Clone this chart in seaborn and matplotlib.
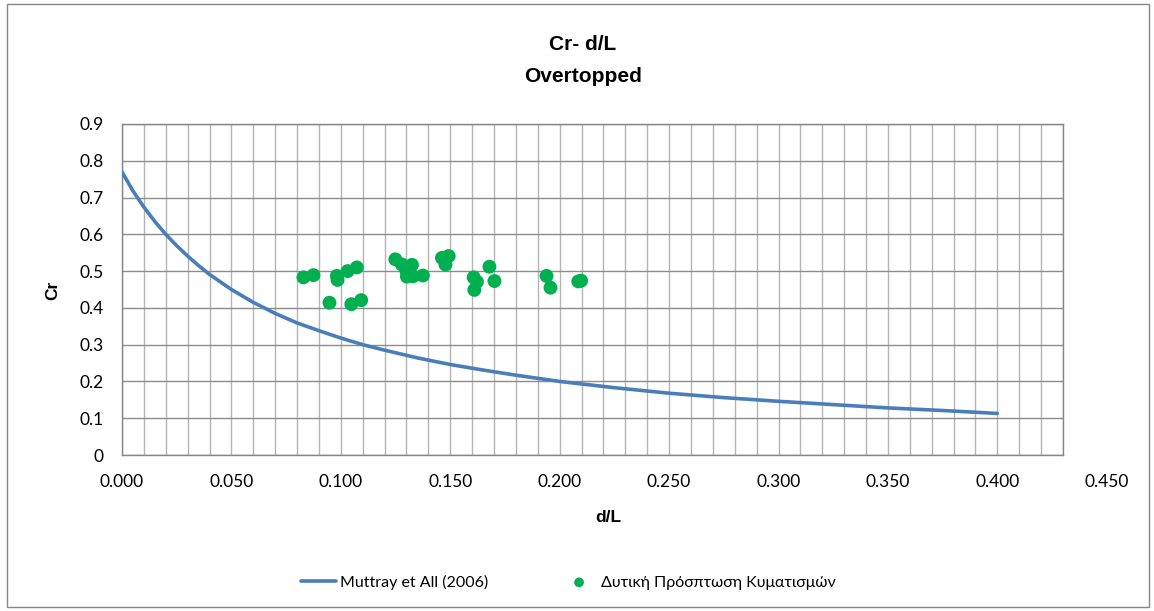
import matplotlib
matplotlib.use("Agg")
import matplotlib.pyplot as plt
from matplotlib.patches import Rectangle
from matplotlib.ticker import MultipleLocator, FixedLocator
import pandas as pd
import seaborn as sns

# Muttray et al. (2006) reflection coefficient curve
muttray_dL = [0.000, 0.005, 0.010, 0.015, 0.020, 0.025, 0.030, 0.035, 0.040, 0.050,
              0.060, 0.070, 0.080, 0.090, 0.100, 0.110, 0.120, 0.135, 0.150, 0.165,
              0.180, 0.200, 0.225, 0.250, 0.275, 0.300, 0.325, 0.350, 0.375, 0.400]
muttray_cr = [0.770, 0.718, 0.674, 0.635, 0.600, 0.569, 0.541, 0.515, 0.491, 0.450,
              0.415, 0.385, 0.359, 0.338, 0.318, 0.300, 0.285, 0.264, 0.246, 0.231,
              0.217, 0.200, 0.183, 0.168, 0.156, 0.146, 0.137, 0.128, 0.121, 0.113]

# Measured reflection coefficients, western wave incidence
obs_dL = [0.0829, 0.0875, 0.0948, 0.0982, 0.0985, 0.1031, 0.1073, 0.1048, 0.1093,
          0.1249, 0.1279, 0.1300, 0.1302, 0.1325, 0.1330, 0.1375, 0.1462, 0.1493,
          0.1478, 0.1607, 0.1622, 0.1610, 0.1679, 0.1702, 0.1940, 0.1958, 0.2085, 0.2098]
obs_cr = [0.483, 0.489, 0.414, 0.487, 0.476, 0.500, 0.510, 0.410, 0.421,
          0.532, 0.518, 0.500, 0.485, 0.517, 0.486, 0.488, 0.536, 0.541,
          0.518, 0.483, 0.471, 0.449, 0.512, 0.473, 0.487, 0.455, 0.472, 0.474]

x_ticks = [0.00, 0.05, 0.10, 0.15, 0.20, 0.25, 0.30, 0.35, 0.40, 0.45]
x_tick_labels = ["0.000", "0.050", "0.100", "0.150", "0.200", "0.250",
                 "0.300", "0.350", "0.400", "0.450"]
y_ticks = [0.0, 0.1, 0.2, 0.3, 0.4, 0.5, 0.6, 0.7, 0.8, 0.9]
y_tick_labels = ["0", "0.1", "0.2", "0.3", "0.4", "0.5", "0.6", "0.7", "0.8", "0.9"]

line_label = "Muttray et All (2006)"
obs_label = "Δυτική Πρόσπτωση Κυματισμών"

sns.set_theme(style="white")
plt.rcParams["font.family"] = ["Lato", "Noto Sans", "DejaVu Sans"]
plt.rcParams["text.color"] = "#000000"
BOLD = ["Liberation Sans", "DejaVu Sans"]

W, H = 1154, 611
fig = plt.figure(figsize=(W / 100, H / 100), dpi=100)
ax = fig.add_axes([122 / W, 1 - 455 / H, (1063 - 122) / W, (455 - 124) / H])

curve = pd.DataFrame({"dL": muttray_dL, "Cr": muttray_cr})
obs = pd.DataFrame({"dL": obs_dL, "Cr": obs_cr})

sns.lineplot(data=curve, x="dL", y="Cr", ax=ax, color="#4A7EBB", linewidth=2.6,
             label=line_label, zorder=3)
sns.scatterplot(data=obs, x="dL", y="Cr", ax=ax, color="#00B050", s=100,
                edgecolor="none", label=obs_label, zorder=4)

x_max = 0.43
ax.set_xlim(0, x_max)
ax.set_ylim(0, 0.9)

# grid: fine vertical lines, heavier horizontal lines
ax.xaxis.set_minor_locator(MultipleLocator(0.01))
ax.grid(which="minor", axis="x", color="#B4B4B4", linewidth=1.0)
ax.grid(which="major", axis="x", color="#B4B4B4", linewidth=1.0)
ax.grid(which="major", axis="y", color="#8C8C8C", linewidth=1.0)
ax.set_axisbelow(True)

TICK_FS = 12.5
inside = [(v, t) for v, t in zip(x_ticks, x_tick_labels) if v <= x_max + 1e-9]
ax.xaxis.set_major_locator(FixedLocator([v for v, _ in inside]))
ax.set_xticklabels([t for _, t in inside])
ax.set_yticks(y_ticks)
ax.set_yticklabels(y_tick_labels)
ax.tick_params(axis="x", which="both", length=0, pad=14, labelsize=TICK_FS, colors="#000000")
ax.tick_params(axis="y", which="both", length=0, pad=13, labelsize=TICK_FS, colors="#000000")

# labels beyond the plotted range
for v, t in zip(x_ticks, x_tick_labels):
    if v > x_max + 1e-9:
        ax.annotate(t, xy=(v, 0), xycoords=("data", "axes fraction"),
                    xytext=(0, -14), textcoords="offset points",
                    ha="center", va="top", fontsize=TICK_FS, color="#000000",
                    annotation_clip=False)

for sp in ax.spines.values():
    sp.set_visible(True)
    sp.set_color("#868686")
    sp.set_linewidth(1.0)

ax.set_xlabel("")
ax.set_ylabel("")
fig.text(53 / W, 1 - 290 / H, "Cr", rotation=90, ha="center", va="center",
         fontsize=12.5, fontweight="bold", family=BOLD, color="#000000")
fig.text(608 / W, 1 - 517 / H, "d/L", ha="center", va="center",
         fontsize=12.5, fontweight="bold", family=BOLD, color="#000000")
fig.text(583 / W, 1 - 44 / H, "Cr- d/L", ha="center", va="center",
         fontsize=15, fontweight="bold", family=BOLD, color="#000000")
fig.text(583 / W, 1 - 76 / H, "Overtopped", ha="center", va="center",
         fontsize=15, fontweight="bold", family=BOLD, color="#000000")

handles, labels = ax.get_legend_handles_labels()
if ax.legend_:
    ax.legend_.remove()
leg = fig.legend(handles, labels, loc="center", bbox_to_anchor=(568 / W, 1 - 582 / H),
                 ncol=2, frameon=False, fontsize=11.5, handlelength=2.2,
                 columnspacing=4.6, handletextpad=0.25, markerscale=0.7)
for t in leg.get_texts():
    t.set_color("#000000")

# chart border
fig.patches.append(Rectangle((7 / W, 4 / H), (1149 - 7) / W, (607 - 4) / H,
                             transform=fig.transFigure, fill=False,
                             edgecolor="#868686", linewidth=1.0))

fig.savefig("out.png", dpi=100, facecolor="white")
